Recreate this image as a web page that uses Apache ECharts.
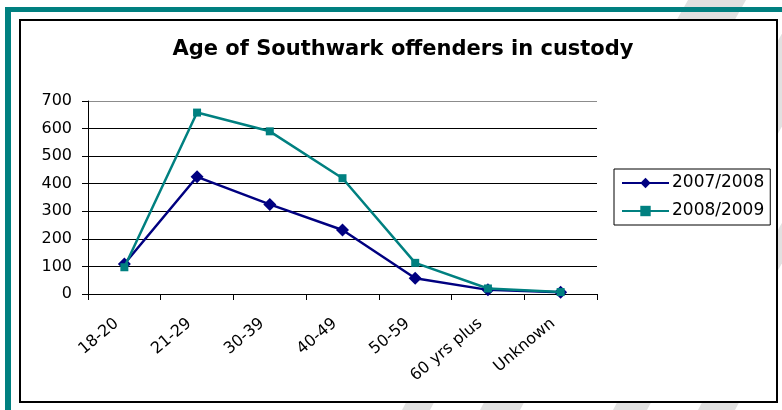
<!DOCTYPE html>
<html>
<head>
<meta charset="utf-8">
<script src="https://cdn.jsdelivr.net/npm/echarts@6/dist/echarts.min.js"></script>
<style>
  html, body { margin: 0; padding: 0; background: #ffffff; }
  #chart { width: 782px; height: 410px; }
</style>
</head>
<body>
<div id="chart"></div>
<script>
// Age bands and number of offenders in custody per year
const categories = ['18-20', '21-29', '30-39', '40-49', '50-59', '60 yrs plus', 'Unknown'];
const year0708 = [109, 425, 325, 232, 57, 15, 6];
const year0809 = [97, 658, 590, 420, 113, 20, 7];
const seriesNames = ['2007/2008', '2008/2009'];
const yTicks = { min: 0, max: 700, interval: 100 };

const FONT = 'DejaVu Sans';
const NAVY = '#000080';
const TEAL = '#008080';
const STRIPE = '#e1e1e1';

// Grid line colours: black inside, grey for the top edge of the plot area
const splitColors = ['#000', '#000', '#000', '#000', '#000', '#000', '#000', '#8c8c8c'];

// Slide decoration: pale diagonal stripes, teal frame and the white chart panel
const stripes = [
  [[688, 0], [746, 0], [712, 60], [654, 60]],
  [[801, 0], [854, 0], [763, 160], [710, 160]],
  [[795, 200], [818, 200], [761, 300], [738, 300]],
  [[410, 395], [438, 395], [430, 410], [402, 410]],
  [[488, 395], [528, 395], [520, 410], [480, 410]],
  [[621, 395], [655, 395], [647, 410], [613, 410]],
  [[706, 395], [743, 395], [735, 410], [698, 410]]
];

const decoration = stripes.map(function (pts) {
  return { type: 'polygon', z: -30, silent: true, shape: { points: pts }, style: { fill: STRIPE } };
}).concat([
  { type: 'rect', z: -20, silent: true, shape: { x: 5, y: 7, width: 777, height: 5 }, style: { fill: TEAL } },
  { type: 'rect', z: -20, silent: true, shape: { x: 5, y: 7, width: 6, height: 403 }, style: { fill: TEAL } },
  { type: 'rect', z: -10, silent: true, shape: { x: 20, y: 20, width: 757, height: 382 },
    style: { fill: '#ffffff', stroke: '#000000', lineWidth: 2 } }
]);

const chart = echarts.init(document.getElementById('chart'));
chart.setOption({
  animation: false,
  backgroundColor: '#ffffff',
  graphic: decoration,
  title: {
    text: 'Age of Southwark offenders in custody',
    left: 398,
    top: 34,
    textAlign: 'center',
    textStyle: { fontFamily: FONT, fontWeight: 'bold', fontSize: 21, color: '#000' }
  },
  legend: {
    orient: 'vertical',
    left: 614,
    top: 169,
    padding: [4, 6, 4, 7],
    itemGap: 8,
    itemWidth: 47,
    itemHeight: 13,
    borderColor: '#000',
    borderWidth: 1,
    backgroundColor: '#fff',
    textStyle: { fontFamily: FONT, fontSize: 17, color: '#000', lineHeight: 20, padding: [0, 0, 0, -2] },
    data: seriesNames
  },
  grid: { left: 88, right: 185, top: 101, bottom: 116, containLabel: false },
  xAxis: {
    type: 'category',
    data: categories,
    boundaryGap: true,
    axisLine: { lineStyle: { color: '#000', width: 1 } },
    axisTick: { show: true, length: 6, lineStyle: { color: '#000' } },
    axisLabel: {
      rotate: 40, margin: 21, padding: [0, 10, 0, 0],
      fontFamily: FONT, fontSize: 16, color: '#000', interval: 0
    },
    splitLine: { show: false }
  },
  yAxis: {
    type: 'value',
    min: yTicks.min,
    max: yTicks.max,
    interval: yTicks.interval,
    axisLine: { show: true, lineStyle: { color: '#000', width: 1 } },
    axisTick: { show: true, length: 6, lineStyle: { color: '#000' } },
    axisLabel: { margin: 16, fontFamily: FONT, fontSize: 16, color: '#000' },
    splitLine: { show: true, lineStyle: { color: splitColors, width: 1 } }
  },
  series: [
    {
      name: seriesNames[0],
      type: 'line',
      data: year0708,
      symbol: 'diamond',
      symbolSize: 13,
      lineStyle: { color: NAVY, width: 2.5 },
      itemStyle: { color: NAVY },
      z: 3
    },
    {
      name: seriesNames[1],
      type: 'line',
      data: year0809,
      symbol: 'rect',
      symbolSize: 8,
      lineStyle: { color: TEAL, width: 2.5 },
      itemStyle: { color: TEAL },
      z: 4
    }
  ]
});
</script>
</body>
</html>
